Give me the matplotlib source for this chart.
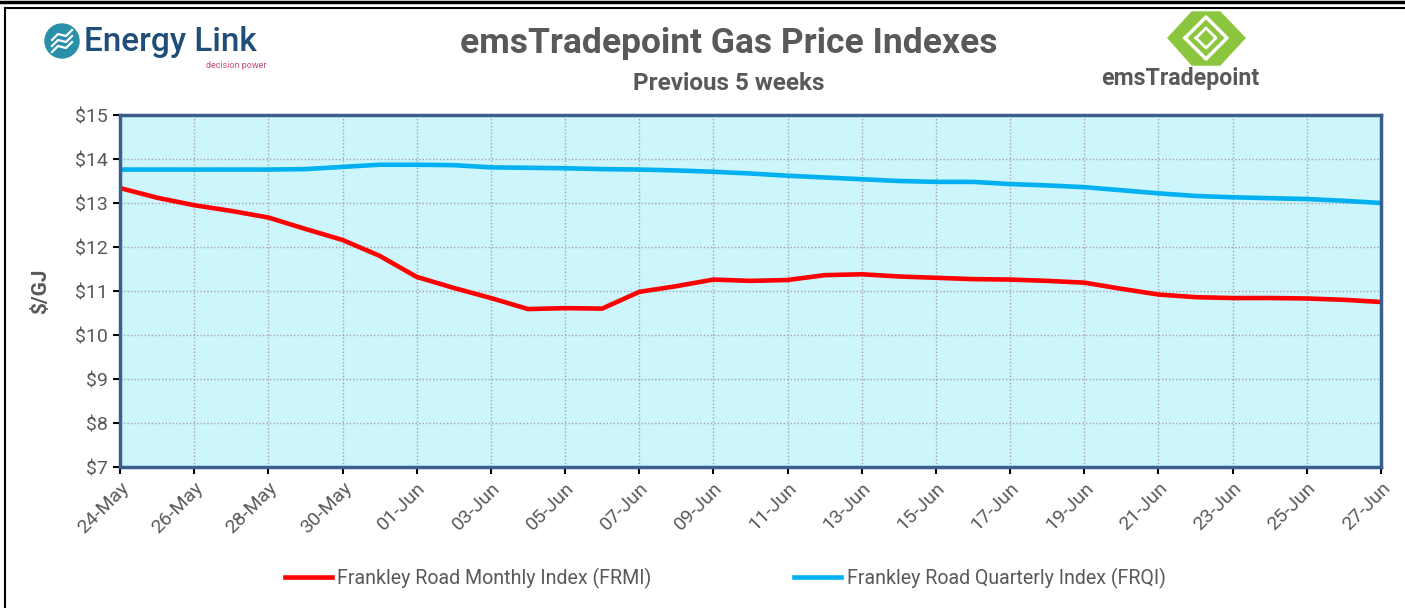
import matplotlib
matplotlib.use("Agg")
import matplotlib.pyplot as plt
import matplotlib.dates as mdates
from matplotlib.patches import Circle, Polygon
import pandas as pd

# daily index values, 24 May to 27 Jun
dates = pd.date_range("2024-05-24", "2024-06-27", freq="D")
frmi = [13.34, 13.12, 12.95, 12.82, 12.67, 12.41, 12.16, 11.80, 11.32, 11.07,
        10.84, 10.59, 10.61, 10.60, 10.98, 11.11, 11.26, 11.23, 11.25, 11.36,
        11.38, 11.33, 11.30, 11.27, 11.26, 11.23, 11.19, 11.05, 10.92, 10.86,
        10.84, 10.84, 10.83, 10.80, 10.75]
frqi = [13.76, 13.76, 13.76, 13.76, 13.76, 13.77, 13.82, 13.87, 13.87, 13.86,
        13.81, 13.80, 13.79, 13.77, 13.76, 13.74, 13.71, 13.67, 13.62, 13.58,
        13.54, 13.50, 13.48, 13.48, 13.43, 13.40, 13.36, 13.29, 13.22, 13.16,
        13.13, 13.11, 13.09, 13.05, 13.00]
y_ticks = [7, 8, 9, 10, 11, 12, 13, 14, 15]

grey = "#595959"
plt.rcParams['font.family'] = ['Roboto', 'DejaVu Sans']

fig = plt.figure(figsize=(14.05, 6.08), dpi=100)

# frame and logos drawn in pixel coordinates
deco = fig.add_axes([0, 0, 1, 1])
deco.set_xlim(0, 1405)
deco.set_ylim(608, 0)
deco.axis("off")
deco.plot([0, 1405], [1.5, 1.5], color="black", lw=2.5)
deco.plot([5, 1405], [8, 8], color="black", lw=1.5)
deco.plot([5, 5], [8, 608], color="black", lw=1.5)

deco.add_patch(Circle((62, 41), 17, color="#2a8fa8"))
for dy in (-6, 0, 6):
    deco.plot([52, 58, 66, 72], [46 + dy, 40 + dy, 42 + dy, 36 + dy],
              color="white", lw=1.6)
deco.text(84, 51, "Energy Link", fontsize=24, fontweight="medium",
          color="#1f4e79", va="baseline", ha="left")
deco.text(266, 65, "decision power", fontsize=6.5, color="#c0506e",
          va="center", ha="right")

deco.add_patch(Polygon([[1168, 38], [1192, 12], [1220, 12], [1245, 38],
                        [1220, 65], [1192, 65]], color="#8cc63f"))
deco.plot([1185, 1206, 1227, 1206, 1185], [38, 17, 38, 59, 38],
          color="white", lw=2.5)
deco.plot([1196, 1206, 1216, 1206, 1196], [38, 28, 38, 48, 38],
          color="white", lw=2)
deco.text(1180, 78, "emsTradepoint", fontsize=16.7, fontweight="bold",
          color=grey, ha="center", va="center")

fig.text(0.519, 1 - 44 / 608, "emsTradepoint Gas Price Indexes", fontsize=25.5,
         fontweight="bold", color=grey, ha="center", va="center")
fig.text(0.519, 1 - 84 / 608, "Previous 5 weeks", fontsize=17.5,
         fontweight="bold", color=grey, ha="center", va="center")

ax = fig.add_axes([120 / 1405, 1 - 467 / 608, 1261 / 1405, 352 / 608])
ax.set_facecolor("#ccf5fc")
ax.plot(dates, frmi, color="#ff0000", lw=3.3, label="Frankley Road Monthly Index (FRMI)")
ax.plot(dates, frqi, color="#00b0f0", lw=3.3, label="Frankley Road Quarterly Index (FRQI)")

ax.set_xlim(dates[0], dates[-1])
ax.set_ylim(7, 15)
ax.set_yticks(y_ticks)
ax.set_yticklabels([f"${v}" for v in y_ticks])
ax.xaxis.set_major_formatter(mdates.DateFormatter("%d-%b"))
ax.set_xticks(dates[::2])
ax.tick_params(axis="both", colors="black", labelcolor=grey, labelsize=14,
               length=5, width=1.5, direction="out")
for lbl in ax.get_xticklabels():
    lbl.set_rotation(45)
    lbl.set_ha("right")
    lbl.set_rotation_mode("anchor")
ax.grid(True, color="#a6a6a6", linestyle=(0, (1, 1.5)), lw=1)
for sp in ax.spines.values():
    sp.set_color("#3b5e8c")
    sp.set_linewidth(2.5)
ax.set_ylabel("$/GJ", fontsize=15, fontweight="bold", color=grey, labelpad=18)

fig.legend(loc="center", bbox_to_anchor=(0.516, 1 - 578 / 608), ncol=2,
           frameon=False, fontsize=14.1, handlelength=2.4, handletextpad=0.3,
           columnspacing=7.25, labelcolor=grey)

fig.savefig("out.png", dpi=100)
